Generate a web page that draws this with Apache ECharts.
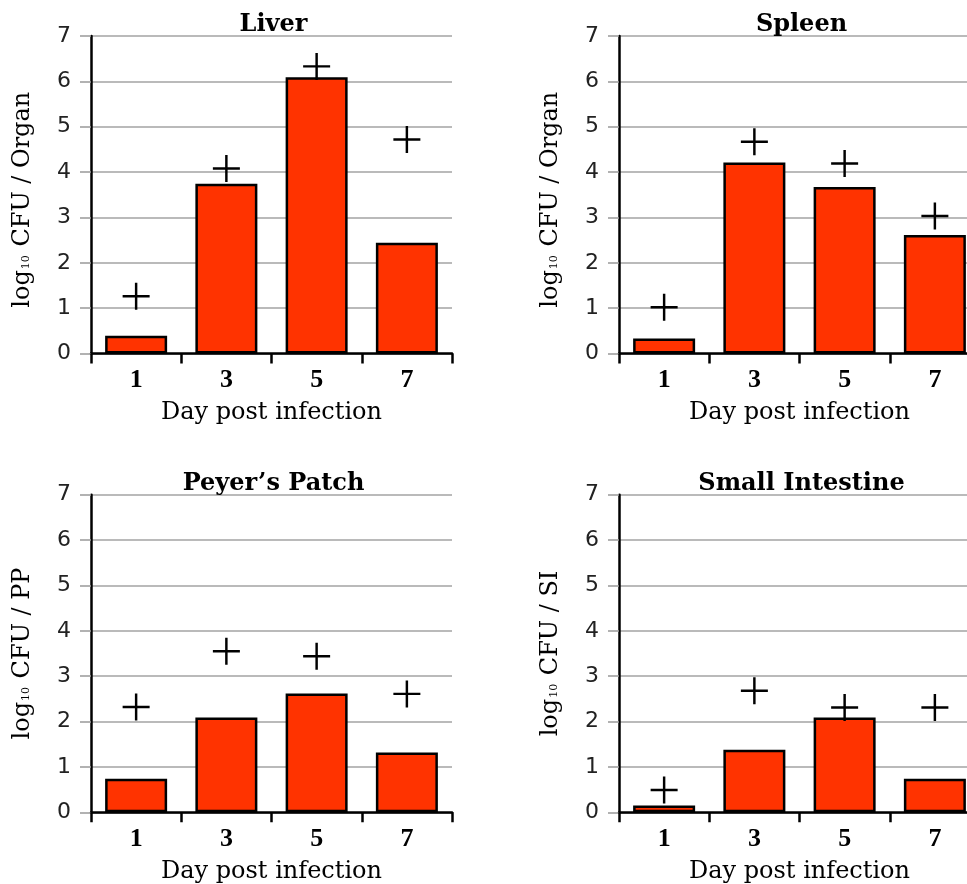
<!DOCTYPE html>
<html>
<head>
<meta charset="utf-8">
<script src="https://cdn.jsdelivr.net/npm/echarts@6/dist/echarts.min.js"></script>
<style>
html,body{margin:0;padding:0;background:#fff;}
#chart{width:967px;height:884px;}
</style>
</head>
<body>
<div id="chart"></div>
<script>
// ---- data ----
const days = ['1', '3', '5', '7'];
const liverBars  = [0.39, 3.74, 6.09, 2.44];
const liverPlus  = [1.26, 4.08, 6.33, 4.72];
const spleenBars = [0.33, 4.21, 3.67, 2.61];
const spleenPlus = [1.02, 4.67, 4.19, 3.03];
const ppBars     = [0.74, 2.09, 2.62, 1.32];
const ppPlus     = [2.32, 3.55, 3.44, 2.61];
const siBars     = [0.15, 1.38, 2.09, 0.74];
const siPlus     = [0.49, 2.68, 2.31, 2.31];
const titles = ['Liver', 'Spleen', 'Peyer\u2019s Patch', 'Small Intestine'];
const yUnits = ['Organ', 'Organ', 'PP', 'SI'];
const xName = 'Day post infection';
const yMin = 0, yMax = 7, yStep = 1;

// ---- layout ----
const grids = [
  {left: 91,  top: 36,    width: 361, height: 317.5},
  {left: 619, top: 36,    width: 361, height: 317.5},
  {left: 91,  top: 494.7, width: 361, height: 317.6},
  {left: 619, top: 494.7, width: 361, height: 317.6}
];
const barsAll = [liverBars, spleenBars, ppBars, siBars];
const plusAll = [liverPlus, spleenPlus, ppPlus, siPlus];
const nameShift = [10, 10, 0, 0];

const plusPath = 'path://M12,0h2.4v12h12v2.4h-12v12h-2.4v-12h-12v-2.4h12z';
const serif = 'DejaVu Serif';

const option = {
  animation: false,
  backgroundColor: '#ffffff',
  title: titles.map((t, i) => ({
    text: t,
    left: grids[i].left + grids[i].width / 2 + 2,
    top: grids[i].top - 23,
    textAlign: 'center',
    padding: 0,
    textStyle: {fontFamily: serif, fontWeight: 'bold', fontSize: 24, color: '#000'}
  })),
  grid: grids.map(g => Object.assign({containLabel: false, outerBoundsMode: 'none'}, g)),
  xAxis: grids.map((g, i) => ({
    type: 'category',
    gridIndex: i,
    data: days,
    offset: 1,
    name: xName,
    nameLocation: 'middle',
    nameGap: 46,
    nameTextStyle: {fontFamily: serif, fontSize: 24, color: '#000'},
    axisLine: {show: true, lineStyle: {color: '#000', width: 2.5}},
    axisTick: {show: true, length: 10, lineStyle: {color: '#000', width: 2.5}},
    axisLabel: {margin: 13, fontFamily: 'Liberation Serif', fontWeight: 'bold', fontSize: 26, color: '#000'},
    splitLine: {show: false}
  })),
  yAxis: grids.map((g, i) => ({
    type: 'value',
    gridIndex: i,
    min: yMin, max: yMax, interval: yStep,
    name: '{a|log}{s|10}{a| CFU / ' + yUnits[i] + '}',
    nameLocation: 'middle',
    nameGap: 56,
    nameRotate: 90,
    nameTextStyle: {
      padding: [0, nameShift[i], 0, 0],
      rich: {
        a: {fontFamily: serif, fontSize: 24, color: '#000'},
        s: {fontFamily: serif, fontSize: 11, color: '#000', padding: [6, 1, 0, 1]}
      }
    },
    axisLine: {show: true, lineStyle: {color: '#000', width: 2.5}},
    axisTick: {show: true, length: 11, lineStyle: {color: '#999', width: 1.5}},
    axisLabel: {margin: 20, fontFamily: 'DejaVu Sans', fontSize: 22, color: '#222'},
    splitLine: {show: true, lineStyle: {color: '#a3a3a3', width: 1.5}}
  })),
  series: []
};

barsAll.forEach((vals, i) => {
  option.series.push({
    type: 'bar',
    xAxisIndex: i, yAxisIndex: i,
    data: vals,
    barWidth: 62,
    z: 2,
    itemStyle: {color: '#ff3300', borderColor: '#000', borderWidth: 2.5}
  });
  option.series.push({
    type: 'scatter',
    xAxisIndex: i, yAxisIndex: i,
    data: plusAll[i],
    symbol: plusPath,
    symbolSize: 27,
    z: 5,
    itemStyle: {color: '#000', opacity: 1}
  });
});

const chart = echarts.init(document.getElementById('chart'), null, {renderer: 'canvas'});
chart.setOption(option);
</script>
</body>
</html>
